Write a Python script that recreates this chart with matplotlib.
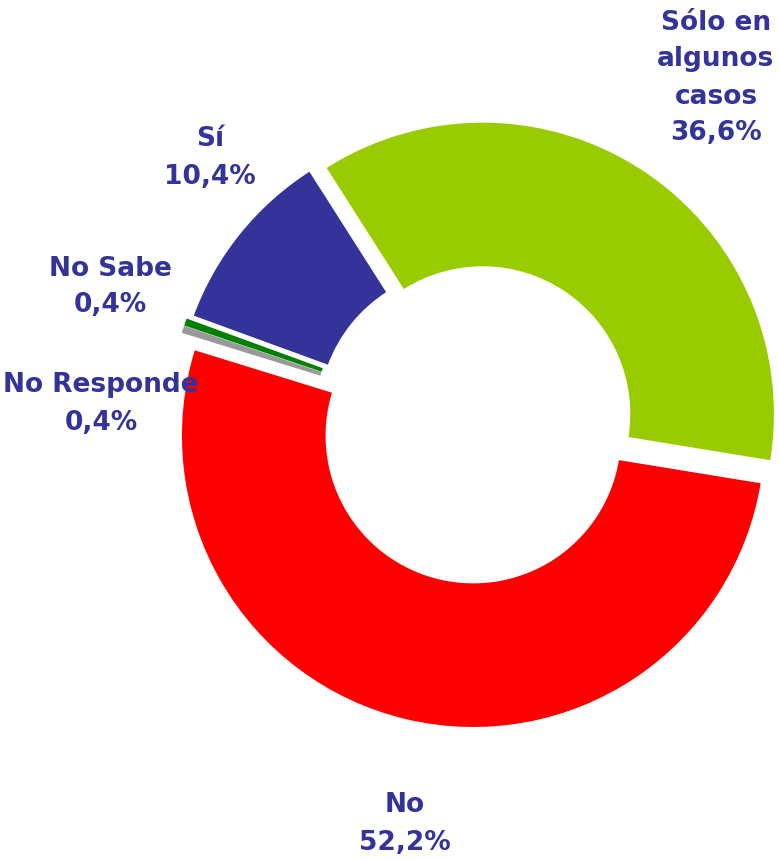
import matplotlib
matplotlib.use("Agg")
import matplotlib.pyplot as plt

# data (clockwise from the green slice)
labels = ["Sólo en\nalgunos\ncasos", "No", "No Responde", "No Sabe", "Sí"]
values = [36.6, 52.2, 0.4, 0.4, 10.4]
pct_text = ["36,6%", "52,2%", "0,4%", "0,4%", "10,4%"]
colors = ["#99CC00", "#FF0000", "#999999", "#008000", "#333399"]

# label centres in pixels (x, y from top)
label_pos = [(716, 78), (405, 824), (101, 404), (110, 287), (210, 158)]

W, H = 779, 860
fig = plt.figure(figsize=(W / 100, H / 100), dpi=100)
ax = fig.add_axes([0, 0, 1, 1])
ax.set_xlim(0, W)
ax.set_ylim(0, H)
ax.set_aspect("equal")
ax.axis("off")

R = 292
wedges, _ = ax.pie(values, colors=colors, radius=R, center=(476, H - 424),
                   startangle=122.5, counterclock=False,
                   explode=[12, 12, 16, 16, 12],
                   wedgeprops=dict(width=145, edgecolor="white", linewidth=1))
# tiny slices: no border so they stay visible
wedges[2].set_linewidth(0)
wedges[3].set_linewidth(0)
wedges[4].set_linewidth(1.6)

# pie resets limits, put them back
ax.set_xlim(0, W)
ax.set_ylim(0, H)

for lab, p, (x, y) in zip(labels, pct_text, label_pos):
    ax.text(x, H - y, lab + "\n" + p, ha="center", va="center",
            fontsize=19, fontweight="bold", color="#333399",
            linespacing=1.55, family="DejaVu Sans")

fig.savefig("out.png", dpi=100)
